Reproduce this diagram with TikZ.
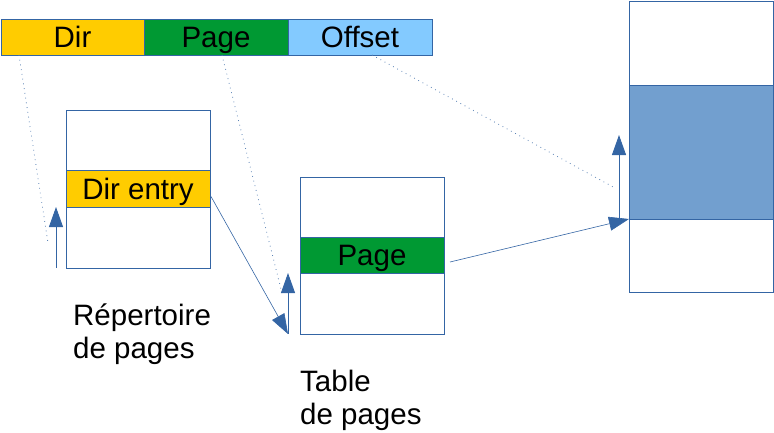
\documentclass[tikz,border=0pt]{standalone}
\usepackage{fontspec}
\setmainfont{Liberation Sans}
\usetikzlibrary{arrows.meta,calc}
\definecolor{lblue}{HTML}{3465A4}
\definecolor{dirfill}{HTML}{FFCC00}
\definecolor{pagefill}{HTML}{009933}
\definecolor{offfill}{HTML}{83CAFF}
\definecolor{memfill}{HTML}{729FCF}
\tikzset{
  cell/.style={draw=lblue, line width=0.9pt, inner sep=0pt, outer sep=0pt, anchor=north west,
    text height=21pt, text depth=0pt, font=\fontsize{29.5}{33}\selectfont},
  ptr/.style={draw=lblue, line width=0.9pt, -{Triangle[length=20pt,width=14pt]}},
  thinptr/.style={draw=lblue, line width=0.6pt, -{Triangle[length=20pt,width=14pt]}},
  dots/.style={draw=lblue!80, line width=0.8pt, dash pattern=on 0.8pt off 4pt},
  lbl/.style={inner sep=0pt, anchor=base west, align=left, font=\fontsize{29.5}{33}\selectfont}
}
\begin{document}
\begin{tikzpicture}[x=1pt,y=-1pt]
\useasboundingbox (0,0) rectangle (774,432);
% address bar
\node[cell, fill=dirfill, minimum width=143pt, minimum height=36pt] (dir) at (1,19) {Dir};
\node[cell, fill=pagefill, minimum width=144pt, minimum height=36pt] (page) at (144,19) {Page};
\node[cell, fill=offfill, minimum width=144pt, minimum height=36pt] (off) at (288,19) {Offset};
% directory table
\node[cell, minimum width=144pt, minimum height=158pt] (dtab) at (66,110) {};
\node[cell, fill=dirfill, minimum width=144pt, minimum height=37pt] (dent) at (66,170) {Dir entry};
% page table
\node[cell, minimum width=144pt, minimum height=157pt] (ptab) at (300,177) {};
\node[cell, fill=pagefill, minimum width=144pt, minimum height=36pt] (pent) at (300,237) {Page};
% memory
\node[cell, minimum width=144pt, minimum height=291pt] (mem) at (629,1) {};
\node[cell, fill=memfill, minimum width=144pt, minimum height=134pt] (mblk) at (629,85) {};
% labels
\node[lbl] (l1) at (73,358) {Répertoire\\de pages};
\node[lbl] (l2) at (300,424) {Table\\de pages};
% dotted guides
\coordinate (d1) at (48,243);
\coordinate (d2) at (282,293);
\coordinate (d3) at (615,188);
\draw[dots] ($(dir.south west)+(18,0)$) -- (d1);
\draw[dots] ($(page.south west)+(78,0)$) -- (d2);
\draw[dots] ($(off.south west)+(84,0)$) -- (d3);
% arrows
\coordinate (a1s) at (56,268);
\coordinate (a1e) at (56,207);
\draw[ptr] (a1s) -- (a1e);
\coordinate (a2e) at (288,334);
\draw[thinptr] ($(dent.east)+(1,8)$) -- (a2e);
\coordinate (a3e) at (288,273);
\draw[ptr] (a2e) -- (a3e);
\coordinate (a4s) at (450,262);
\draw[thinptr] (a4s) -- (mblk.south west);
\coordinate (a5s) at (619,219);
\coordinate (a5e) at (619,135);
\draw[ptr] (a5s) -- (a5e);
\end{tikzpicture}
\end{document}
